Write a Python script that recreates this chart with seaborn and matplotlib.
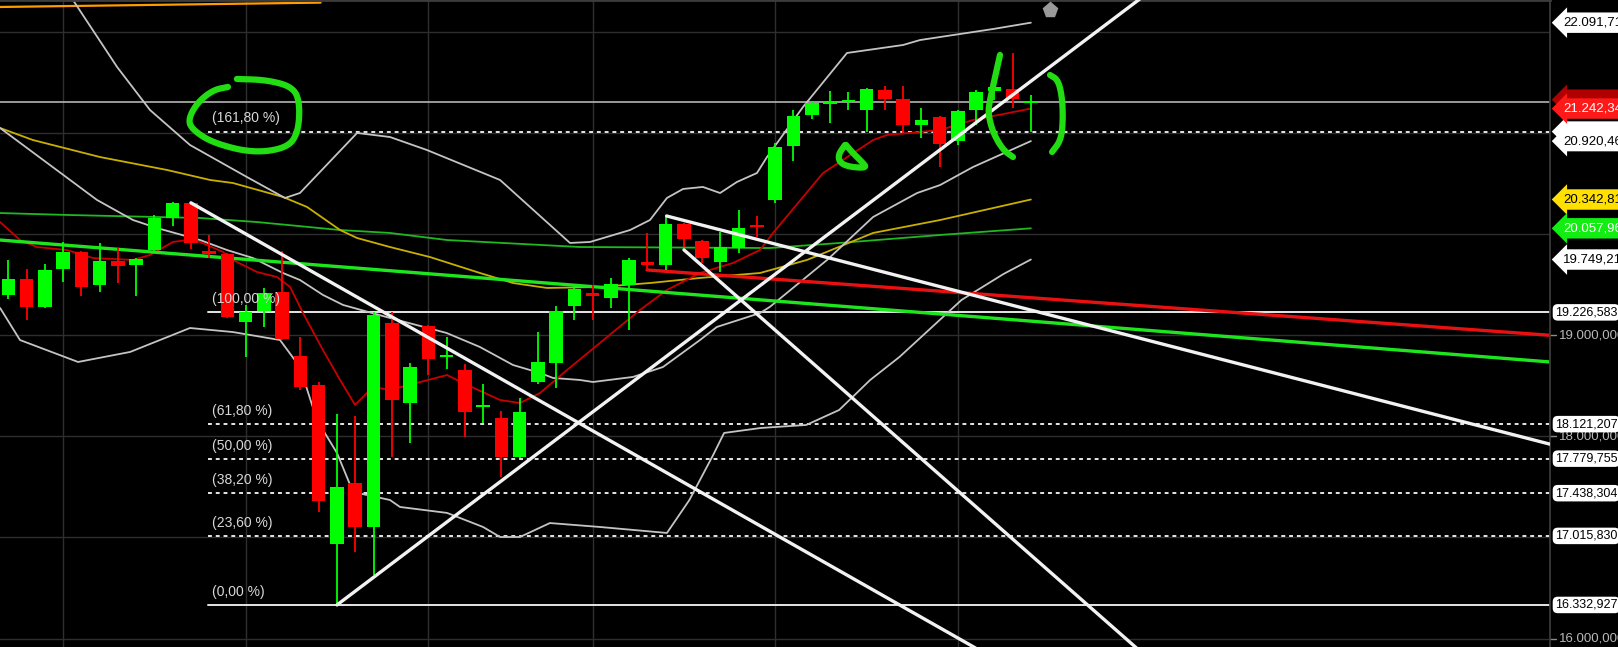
import matplotlib
matplotlib.use('Agg')
import numpy as np
import matplotlib.pyplot as plt
import seaborn as sns

sns.set_theme(style='dark', rc={'axes.facecolor': 'black', 'figure.facecolor': 'black'})
plt.rcParams['font.family'] = ['Liberation Sans', 'DejaVu Sans']

# daily candles (open, high, low, close)
opens = [19398, 19557, 19280, 19656, 19824, 19497, 19735, 19695, 19843, 20160,
         20308, 19834, 19804, 19131, 19240, 19428, 18795, 18508, 16936, 17539,
         17104, 19122, 18330, 19092, 18785, 18657, 18295, 18182, 17796, 18538,
         18726, 19290, 19418, 19369, 19497, 19725, 19695, 20101, 19933, 19725,
         19863, 20091, 20338, 20872, 21179, 21290, 21310, 21228, 21426, 21337,
         21080, 21159, 20921, 21228, 21416, 21436, 21300]
highs = [19745, 19656, 19705, 19923, 19830, 19913, 19863, 19764, 20190, 20315,
         20315, 19992, 19810, 19300, 19468, 19834, 18983, 18538, 18222, 18202,
         19226.583, 19230, 18726, 19100, 18983, 18716, 18518, 18251, 18380, 19033,
         19290, 19497, 19497, 19567, 19764, 20012, 20180, 20110, 19940, 20022,
         20239, 20180, 20902, 21228, 21317, 21416, 21406, 21446, 21465, 21465,
         21248, 21165, 21225, 21426, 21476, 21792, 21376]
lows = [19359, 19151, 19270, 19527, 19389, 19428, 19517, 19389, 19824, 20081,
        19853, 19764, 19175, 18785, 19082, 18955, 18459, 17252, 16332.927, 16857,
        16629, 17796, 17935, 18607, 18667, 17994, 18133, 17598, 17786, 18518,
        18479, 19151, 19151, 19270, 19052, 19646, 19646, 19873, 19715, 19626,
        19814, 19972, 20308, 20724, 21139, 21100, 21228, 21010, 21228, 21001,
        20951, 20664, 20882, 21080, 21327, 21248, 21010]
closes = [19557, 19280, 19646, 19824, 19478, 19735, 19685, 19754, 20160, 20308,
          19913, 19804, 19181, 19230, 19418, 18963, 18489, 17361, 17500, 17104,
          19201, 18360, 18686, 18765, 18795, 18241, 18310, 17796, 18241, 18736,
          19240, 19458, 19389, 19507, 19745, 19695, 20101, 19952, 19764, 19873,
          20061, 20071, 20862, 21169, 21297, 21305, 21325, 21436, 21337, 21080,
          21129, 20892, 21218, 21406, 21456, 21337, 21315]

# indicator lines (candle index, price)
bb_up_x = [2.0, 3.65, 5.96, 7.76, 9.95, 13.07, 15.15, 15.97, 19.1, 20.9, 22.93, 26.93,
           30.76, 31.86, 34.05, 35.14, 36.07, 36.95, 38.04, 38.98, 39.9, 41.0, 41.55,
           43.52, 45.93, 49.0, 49.93, 53.93, 56.0]
bb_up_y = [22740, 22286, 21653, 21228, 20882, 20565, 20358, 20407, 21001, 20961, 20832,
           20536, 19913, 19923, 20041, 20140, 20358, 20447, 20467, 20407, 20516, 20605,
           20763, 21258, 21792, 21871, 21920, 22029, 22091.71]
bb_mid_x = [-0.45, 4.86, 6.83, 8.14, 10.5, 11.98, 13.4, 15.04, 15.97, 17.23, 18.33, 20.9,
            24.0, 25.83, 27.64, 29.12, 29.83, 31.3, 32.02, 34.21, 35.85, 37.88, 38.8,
            41.17, 41.7, 44.84, 47.36, 49.77, 51.03, 52.83, 56.0]
bb_mid_y = [21050, 20338, 20140, 20061, 19942, 19843, 19764, 19616, 19547, 19399, 19300,
            19171, 19023, 18884, 18706, 18627, 18578, 18558, 18538, 18588, 18686, 18953,
            19082, 19220, 19280, 19745, 20170, 20407, 20486, 20664, 20920.46]
bb_low_x = [-0.45, 0.64, 3.82, 6.67, 9.95, 12.3, 14.88, 15.97, 16.9, 18.0, 18.88, 20.9,
            21.45, 24.03, 26.0, 26.93, 28.02, 29.66, 32.4, 36.07, 37.3, 38.6, 39.2, 41.2,
            43.7, 45.5, 47.2, 48.8, 52.2, 54.5, 56.0]
bb_low_y = [19270, 18953, 18736, 18835, 19072, 19032, 18953, 18686, 18162, 17836, 17450,
            17371, 17302, 17243, 17104, 17005, 17005, 17143, 17104, 17045, 17371, 17816,
            18034, 18083, 18113, 18261, 18558, 18785, 19349, 19606, 19749.21]
ema_x = [-0.45, 0.64, 1.57, 3.21, 4.64, 6.83, 7.76, 9.02, 9.79, 10.5, 11.76, 12.3, 13.62,
         14.72, 15.43, 16.14, 17.23, 18.17, 18.99, 19.97, 20.9, 24.03, 24.9, 26.93, 28.02,
         29.12, 30.6, 32.4, 34.59, 36.07, 37.88, 39.69, 41.17, 41.88, 44.62, 47.36, 48.12,
         51.03, 52.83, 56.0]
ema_y = [20120, 19942, 19873, 19843, 19764, 19745, 19794, 19923, 19942, 19923, 19824,
         19745, 19626, 19576, 19478, 19220, 18854, 18558, 18311, 18489, 18459, 18607,
         18528, 18360, 18330, 18429, 18657, 18924, 19250, 19448, 19616, 19715, 19844,
         20012, 20605, 20931, 20981, 21030, 21129, 21242.34]
sma50_x = [-0.45, 1.35, 5.02, 8.69, 11.05, 12.3, 15.04, 16.36, 18.17, 19.1, 20.9, 23.09,
           25.83, 27.64, 29.5, 32.4, 35.14, 37.88, 41.17, 43.74, 47.36, 51.03, 56.0]
sma50_y = [21050, 20931, 20763, 20635, 20536, 20506, 20368, 20269, 20041, 19962, 19873,
           19774, 19616, 19517, 19468, 19478, 19517, 19567, 19616, 19745, 20012, 20140,
           20342.81]
sma100_x = [-0.45, 3.21, 10.5, 13.62, 18.17, 20.9, 24.03, 31.3, 41.7, 45.55, 51.03, 56.0]
sma100_y = [20209, 20190, 20160, 20120, 20041, 20012, 19942, 19873, 19863, 19913, 19992,
            20057.96]
sma200_x = [-0.45, 17.1]
sma200_y = [22247, 22290]

# drawn trend lines
green_trend_x, green_trend_y = [-0.45, 84.43], [19942, 18736]
red_trend_x, red_trend_y = [34.98, 84.43], [19646, 19000]
white_lines = [
    ([10.0, 54.5], [20310, 15750]),
    ([18.0, 63.0], [16332.927, 22467]),
    ([36.05, 84.43], [20180, 17923]),
    ([37.0, 63.0], [19845, 15714]),
]
hline_price = 21310

# fibonacci retracement
fib_pct = ['(0,00 %)', '(23,60 %)', '(38,20 %)', '(50,00 %)', '(61,80 %)', '(100,00 %)', '(161,80 %)']
fib_val = [16332.927, 17015.830, 17438.304, 17779.755, 18121.207, 19226.583, 21014.793]
fib_txt = ['16.332,927', '17.015,830', '17.438,304', '17.779,755', '18.121,207', '19.226,583', '']
fib_start = 10.95

# hand-drawn green marks
loop_x = [12.03, 11.21, 10.33, 9.84, 10.11, 11.21, 13.4, 15.26, 15.87, 15.97, 15.59, 14.17, 12.52]
loop_y = [21456, 21426, 21297, 21129, 21030, 20902, 20803, 20852, 21001, 21297, 21456, 21525, 21535]
d_x = [45.82, 45.44, 45.55, 46.1, 47.03, 46.75, 46.2, 45.88]
d_y = [20882, 20783, 20704, 20664, 20655, 20714, 20813, 20882]
lbr_x = [54.31, 54.04, 53.76, 53.65, 53.93, 54.48, 55.02]
lbr_y = [21772, 21554, 21327, 21198, 21001, 20832, 20763]
rbr_x = [57.05, 57.49, 57.71, 57.76, 57.65, 57.16]
rbr_y = [21574, 21525, 21357, 21129, 20931, 20813]

vgrid = [3, 13, 23, 32, 42, 52]


def smooth(xs, ys, n=3):
    # chaikin corner cutting for the hand-drawn strokes
    pts = np.column_stack([xs, ys]).astype(float)
    for _ in range(n):
        q = 0.75 * pts[:-1] + 0.25 * pts[1:]
        r = 0.25 * pts[:-1] + 0.75 * pts[1:]
        new = np.empty((2 * len(q), 2))
        new[0::2] = q
        new[1::2] = r
        pts = np.vstack([pts[:1], new, pts[-1:]])
    return pts[:, 0], pts[:, 1]


fig = plt.figure(figsize=(16.18, 6.47), dpi=100)
ax = fig.add_axes([0, 0, 1550 / 1618, 1])
ax.set_facecolor('black')
ax.set_xlim(-0.455, 84.43)
ax.set_ylim(15917, 22316)

for v in range(16000, 23000, 1000):
    ax.axhline(v, color='#2e2e2e', lw=1, zorder=0)
for v in vgrid:
    ax.axvline(v, color='#2e2e2e', lw=1, zorder=0)

ax.axhline(hline_price, color='#b4b4b4', lw=1.2, zorder=1)

# fib lines
for lab, val in zip(fib_pct, fib_val):
    ls = '-' if lab in ('(0,00 %)', '(100,00 %)') else (0, (2, 2))
    ax.plot([fib_start, 84.43], [val, val], color='#e6e6e6', lw=1.4, ls=ls, zorder=1)
    ax.text(fib_start + 0.2, val + 60, lab, color='#d8d8d8', fontsize=10,
            va='bottom', ha='left', zorder=6)

# indicator lines
sns.lineplot(x=sma200_x, y=sma200_y, color='#ff9c00', lw=1.6, ax=ax, estimator=None, sort=False)
sns.lineplot(x=sma100_x, y=sma100_y, color='#1fb81f', lw=1.3, ax=ax, estimator=None, sort=False)
sns.lineplot(x=sma50_x, y=sma50_y, color='#c9b000', lw=1.3, ax=ax, estimator=None, sort=False)
for bx, by in [(bb_up_x, bb_up_y), (bb_mid_x, bb_mid_y), (bb_low_x, bb_low_y)]:
    sns.lineplot(x=bx, y=by, color='#c4c4c4', lw=1.3, ax=ax, estimator=None, sort=False)
sns.lineplot(x=ema_x, y=ema_y, color='#c80000', lw=1.3, ax=ax, estimator=None, sort=False)

ax.plot(green_trend_x, green_trend_y, color='#1ee61e', lw=2.4, zorder=2)
ax.plot(red_trend_x, red_trend_y, color='#e81010', lw=2.4, zorder=2)
for wx, wy in white_lines:
    ax.plot(wx, wy, color='#f2f2f2', lw=2.4, zorder=4)

# candles
for i in range(len(opens)):
    o, h, l, c = opens[i], highs[i], lows[i], closes[i]
    col = '#00ff00' if c >= o else '#ff0000'
    ax.vlines(i, l, h, color=col, lw=1.3, zorder=3)
    ax.bar(i, max(abs(c - o), 18), bottom=min(o, c), width=0.74, color=col,
           edgecolor=col, lw=0, zorder=3)

# hand drawn marks
for mx, my in [(loop_x, loop_y), (d_x, d_y), (lbr_x, lbr_y), (rbr_x, rbr_y)]:
    sx, sy = smooth(mx, my)
    ax.plot(sx, sy, color='#22dd11', lw=4.5, solid_capstyle='round',
            solid_joinstyle='round', zorder=7)

ax.plot([57.05], [22217], marker='p', ms=11, color='#9a9a9a', zorder=7)

# right axis
ax.set_xticks([])
ax.set_yticks([])
for s in ['left', 'bottom']:
    ax.spines[s].set_visible(False)
ax.spines['right'].set_color('#3c3c3c')
ax.spines['top'].set_color('#3c3c3c')
ax.spines['top'].set_linewidth(2)

tr = ax.get_yaxis_transform()
for v, t in [(19000, '19.000,000'), (18000, '18.000,000'), (16000, '16.000,000')]:
    ax.plot([1.0, 1.004], [v, v], color='#8a8a8a', lw=1, transform=tr, clip_on=False)
    ax.text(1.0055, v, t, transform=tr, color='#b8b8b8', fontsize=9.5, va='center',
            ha='left', clip_on=False)

for val, t in zip(fib_val, fib_txt):
    if not t:
        continue
    ax.text(1.0032, val, t, transform=tr, color='black', fontsize=9, va='center', ha='left',
            clip_on=False, zorder=8,
            bbox=dict(boxstyle='round,pad=0.18,rounding_size=0.4', fc='white', ec='none'))

# hidden tags peeking out from behind the value tags
for val, bg in [(21330, '#b00000'), (21014.793, 'white')]:
    ax.text(1.0085, val, '00.000,00', transform=tr, color=bg, fontsize=9.5, va='center',
            ha='left', clip_on=False, zorder=8,
            bbox=dict(boxstyle='larrow,pad=0.32', fc=bg, ec='none'))

tags = [
    (22091.71, '22.091,71', 'white', 'black'),
    (21242.34, '21.242,34', '#ff1a1a', 'white'),
    (20920.46, '20.920,46', 'white', 'black'),
    (20342.81, '20.342,81', '#ffe000', 'black'),
    (20057.96, '20.057,96', '#12ee12', 'white'),
    (19749.21, '19.749,21', 'white', 'black'),
]
for val, t, bg, fg in tags:
    ax.text(1.0085, val, t, transform=tr, color=fg, fontsize=9.5, va='center', ha='left',
            clip_on=False, zorder=9,
            bbox=dict(boxstyle='larrow,pad=0.32', fc=bg, ec='none'))

fig.savefig('out.png', dpi=100, facecolor='black')
